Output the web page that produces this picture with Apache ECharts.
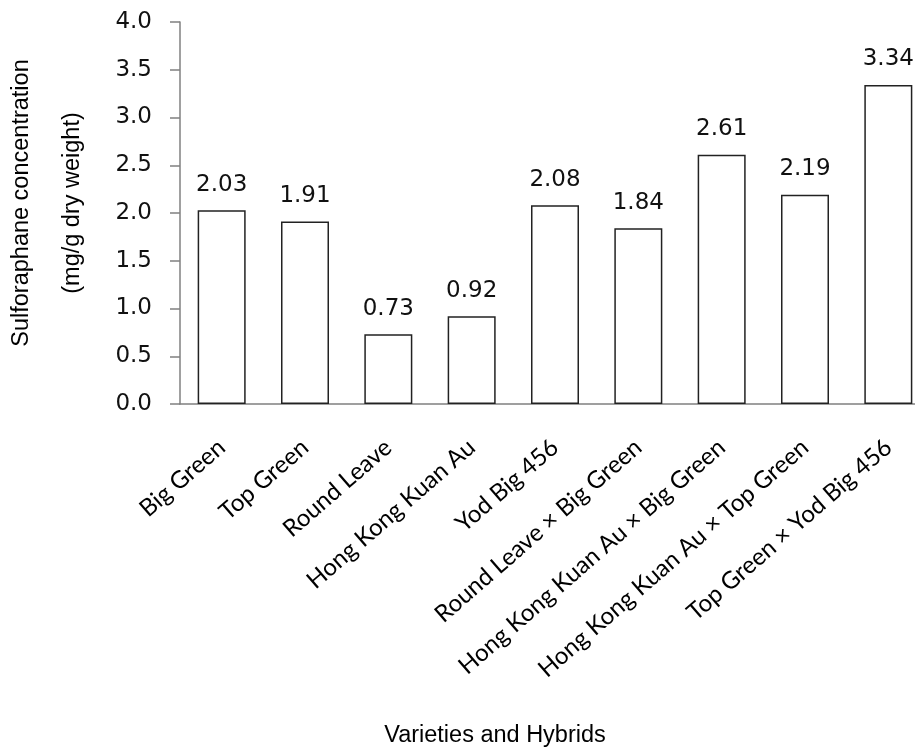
<!DOCTYPE html>
<html>
<head>
<meta charset="utf-8">
<title>Sulforaphane concentration</title>
<script src="https://cdn.jsdelivr.net/npm/echarts@6/dist/echarts.min.js"></script>
<style>
  html, body { margin: 0; padding: 0; background: #fff; }
  #chart { width: 915px; height: 747px; }
</style>
</head>
<body>
<div id="chart"></div>
<script>
// Varieties and hybrids, with sulforaphane content (mg/g dry weight)
const categories = [
  'Big Green',
  'Top Green',
  'Round Leave',
  'Hong Kong Kuan Au',
  'Yod Big 456',
  'Round Leave × Big Green',
  'Hong Kong Kuan Au × Big Green',
  'Hong Kong Kuan Au × Top Green',
  'Top Green × Yod Big 456'
];
const sulforaphane = [2.03, 1.91, 0.73, 0.92, 2.08, 1.84, 2.61, 2.19, 3.34];

const yMin = 0;
const yMax = 4;
const yStep = 0.5;

const chart = echarts.init(document.getElementById('chart'), null, { renderer: 'canvas' });

chart.setOption({
  animation: false,
  backgroundColor: '#ffffff',
  // plot area runs past the right edge of the canvas, so the last bar is cut off
  grid: { left: 180, top: 22, width: 750, height: 382, containLabel: false, outerBoundsMode: 'none' },
  xAxis: {
    type: 'category',
    data: categories,
    name: 'Varieties and Hybrids',
    nameLocation: 'middle',
    nameGap: 320,
    nameTextStyle: {
      fontFamily: 'Liberation Sans, Arial, sans-serif',
      fontSize: 23.5,
      color: '#000',
      padding: [0, 120, 0, 0]
    },
    axisLine: { show: true, lineStyle: { color: '#808080', width: 1.5 } },
    axisTick: { show: false },
    axisLabel: {
      interval: 0,
      rotate: 41,
      margin: 40,
      fontFamily: 'Lato, "Open Sans", sans-serif',
      fontSize: 24,
      color: '#000'
    }
  },
  yAxis: {
    type: 'value',
    min: yMin,
    max: yMax,
    interval: yStep,
    name: 'Sulforaphane concentration\n(mg/g dry weight)',
    nameLocation: 'middle',
    nameRotate: 90,
    nameGap: 82,
    nameTextStyle: {
      fontFamily: 'Liberation Sans, Arial, sans-serif',
      fontSize: 23.5,
      lineHeight: 51,
      color: '#000',
      padding: [0, 0, 0, 20]
    },
    axisLine: { show: true, lineStyle: { color: '#808080', width: 1.5 } },
    axisTick: { show: true, inside: false, length: 10, lineStyle: { color: '#808080', width: 1.5 } },
    splitLine: { show: false },
    axisLabel: {
      margin: 28,
      fontFamily: '"DejaVu Sans", sans-serif',
      fontSize: 23,
      color: '#111',
      formatter: v => v.toFixed(1)
    }
  },
  series: [{
    type: 'bar',
    data: sulforaphane,
    barWidth: 48,
    itemStyle: { color: '#ffffff', borderColor: '#222', borderWidth: 1.5 },
    label: {
      show: true,
      position: 'top',
      distance: 14,
      fontFamily: '"DejaVu Sans", sans-serif',
      fontSize: 23,
      color: '#111',
      formatter: p => p.value.toFixed(2)
    }
  }]
});
</script>
</body>
</html>
